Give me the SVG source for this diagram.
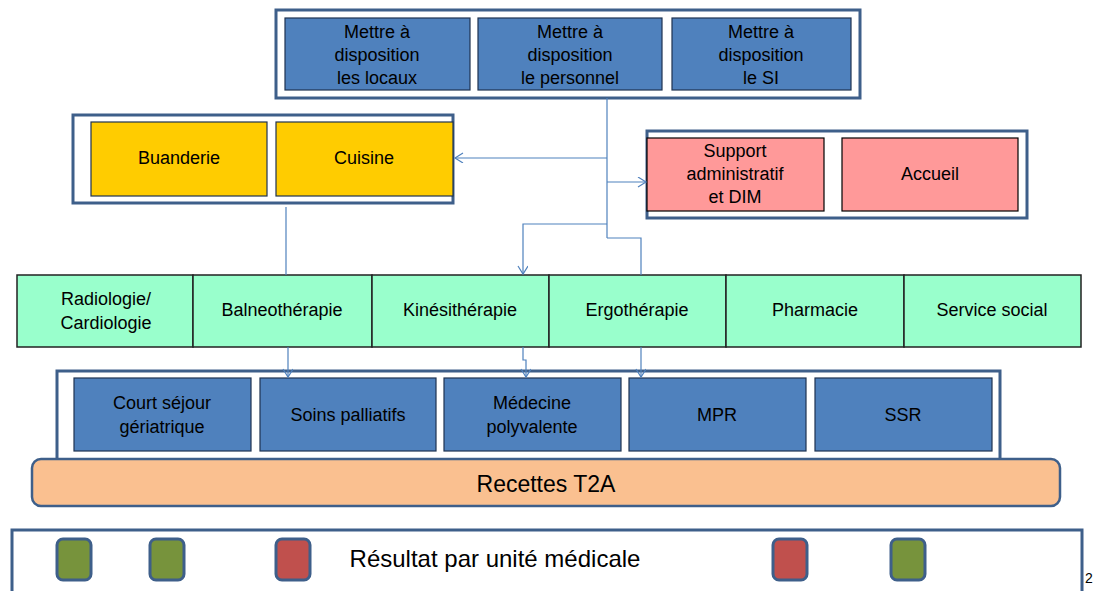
<svg xmlns="http://www.w3.org/2000/svg" width="1094" height="591" viewBox="0 0 1094 591">
<defs>
<style>
.cont{fill:#fff;stroke:#3E5F8A;stroke-width:3}
.blue{fill:#4F81BD;stroke:#1F3350;stroke-width:1.2}
.yel{fill:#FFCC00;stroke:#1F3350;stroke-width:1.2}
.pink{fill:#FF9999;stroke:#000;stroke-width:1.2}
.grn{fill:#99FFCC;stroke:#222;stroke-width:1.5}
.t{font-family:"Liberation Sans",Arial,sans-serif;font-size:18px;fill:#000;text-anchor:middle}
.big{font-size:23px}
.conn{fill:none;stroke:#4F81BD;stroke-width:1.2}
.leg{stroke:#3E5F8A;stroke-width:3}
</style>
<marker id="arr" markerUnits="userSpaceOnUse" markerWidth="12" markerHeight="12" refX="9" refY="5" orient="auto">
<path d="M1,0 L9,5 L1,10" fill="none" stroke="#4F81BD" stroke-width="1.2"/>
</marker>
</defs>
<rect width="1094" height="591" fill="#fff"/>

<g id="top-container">
<rect class="cont" x="276" y="10" width="584" height="88"/>
</g>
<g id="locaux"><rect class="blue" x="285" y="18" width="185" height="72"/>
<text class="t" x="377" y="38">Mettre à</text><text class="t" x="377" y="61">disposition</text><text class="t" x="377" y="84">les locaux</text></g>
<g id="personnel"><rect class="blue" x="478" y="18" width="184" height="72"/>
<text class="t" x="570" y="38">Mettre à</text><text class="t" x="570" y="61">disposition</text><text class="t" x="570" y="84">le personnel</text></g>
<g id="si"><rect class="blue" x="672" y="18" width="179" height="72"/>
<text class="t" x="761" y="38">Mettre à</text><text class="t" x="761" y="61">disposition</text><text class="t" x="761" y="84">le SI</text></g>

<g id="yellow-container"><rect class="cont" x="73" y="115" width="380" height="88"/></g>
<g id="buanderie"><rect class="yel" x="91" y="122" width="176" height="74"/><text class="t" x="179" y="164">Buanderie</text></g>
<g id="cuisine"><rect class="yel" x="276" y="122" width="177" height="74"/><text class="t" x="364" y="164">Cuisine</text></g>

<g id="pink-container"><rect class="cont" x="647" y="131" width="380" height="87"/></g>
<g id="support"><rect class="pink" x="647" y="138" width="177" height="73"/>
<text class="t" x="735" y="157">Support</text><text class="t" x="735" y="180">administratif</text><text class="t" x="735" y="203">et DIM</text></g>
<g id="accueil"><rect class="pink" x="842" y="138" width="176" height="73"/><text class="t" x="930" y="180">Accueil</text></g>

<g id="radiologie"><rect class="grn" x="17" y="275" width="176" height="72"/>
<text class="t" x="106" y="305">Radiologie/</text><text class="t" x="106" y="329">Cardiologie</text></g>
<g id="balneo"><rect class="grn" x="193" y="275" width="179" height="72"/><text class="t" x="282" y="316">Balneothérapie</text></g>
<g id="kine"><rect class="grn" x="372" y="275" width="177" height="72"/><text class="t" x="460" y="316">Kinésithérapie</text></g>
<g id="ergo"><rect class="grn" x="549" y="275" width="177" height="72"/><text class="t" x="637" y="316">Ergothérapie</text></g>
<g id="pharmacie"><rect class="grn" x="726" y="275" width="178" height="72"/><text class="t" x="815" y="316">Pharmacie</text></g>
<g id="service-social"><rect class="grn" x="904" y="275" width="177" height="72"/><text class="t" x="992" y="316">Service social</text></g>

<g id="units-container"><rect class="cont" x="57" y="371" width="943" height="100"/></g>
<g id="court-sejour"><rect class="blue" x="74" y="378" width="177" height="73"/>
<text class="t" x="162" y="409">Court séjour</text><text class="t" x="162" y="433">gériatrique</text></g>
<g id="soins-palliatifs"><rect class="blue" x="260" y="378" width="176" height="73"/><text class="t" x="348" y="421">Soins palliatifs</text></g>
<g id="medecine"><rect class="blue" x="444" y="378" width="177" height="73"/>
<text class="t" x="532" y="409">Médecine</text><text class="t" x="532" y="433">polyvalente</text></g>
<g id="mpr"><rect class="blue" x="629" y="378" width="177" height="73"/><text class="t" x="717" y="421">MPR</text></g>
<g id="ssr"><rect class="blue" x="815" y="378" width="177" height="73"/><text class="t" x="903" y="421">SSR</text></g>

<g id="recettes"><rect x="32" y="459" width="1028" height="47" rx="9" fill="#FAC090" stroke="#3E5F8A" stroke-width="2.5"/>
<text class="t big" x="546" y="492">Recettes T2A</text></g>

<g id="connectors">
<path class="conn" d="M607,98 V238"/>
<path class="conn" d="M607,158 H455" marker-end="url(#arr)"/>
<path class="conn" d="M607,182 H646" marker-end="url(#arr)"/>
<path class="conn" d="M607,224 H523 V274" marker-end="url(#arr)"/>
<path class="conn" d="M607,238 H641 V275"/>
<path class="conn" d="M286,207 V275"/>
<path class="conn" d="M288,347 V377" marker-end="url(#arr)"/>
<path class="conn" d="M523,347 V360 H526 V377" marker-end="url(#arr)"/>
<path class="conn" d="M641,347 V377" marker-end="url(#arr)"/>
</g>

<g id="resultat">
<rect x="12" y="530" width="1070" height="80" fill="#fff" stroke="#3E5F8A" stroke-width="3"/>
<rect class="leg" x="57" y="539" width="34" height="41" rx="6" fill="#77933C"/>
<rect class="leg" x="150" y="539" width="34" height="41" rx="6" fill="#77933C"/>
<rect class="leg" x="276" y="539" width="34" height="41" rx="6" fill="#C0504D"/>
<rect class="leg" x="773" y="539" width="34" height="41" rx="6" fill="#C0504D"/>
<rect class="leg" x="891" y="539" width="34" height="41" rx="6" fill="#77933C"/>
<text class="t" x="495" y="567" style="font-size:24px">Résultat par unité médicale</text>
</g>
<text class="t" x="1089" y="583" style="font-size:14px">2</text>
</svg>
